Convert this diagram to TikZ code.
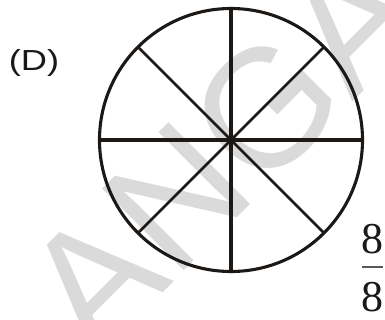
\documentclass[tikz,border=0pt]{standalone}
\usepackage{fontspec}
\newfontfamily\wmfont{Liberation Sans}
\newfontfamily\labfont{Liberation Sans}
\newfontfamily\numfont{Liberation Serif}
\definecolor{wmgray}{RGB}{218,218,218}
\definecolor{ink}{RGB}{28,24,22}
\tikzset{
  spoke/.style={draw=ink, line width=2.8pt},
  axisline/.style={draw=ink, line width=3.3pt},
  digit/.style={font=\numfont\fontsize{44}{44}\selectfont, inner sep=0pt, anchor=base, text=ink},
}
\begin{document}
\begin{tikzpicture}[x=1pt,y=1pt]
\useasboundingbox (0,0) rectangle (385,-320);
\clip (0,0) rectangle (385,-320);
\fill[white] (0,0) rectangle (385,-320);
% watermark
\node[rotate=45, text=wmgray, font=\wmfont\fontsize{168}{168}\selectfont, inner sep=0pt] (wm) at (223,-151) {ANGA};
% circle
\node[circle, draw=ink, line width=3.1pt, minimum size=263pt, inner sep=0pt, outer sep=0pt] (c) at (231,-140) {};
\draw[axisline] (c.west) -- (c.east);
\draw[axisline] (c.north) -- (c.south);
\draw[spoke] (c.135) -- (c.315);
\draw[spoke] (c.45) -- (c.225);
% label
\node[font=\labfont\fontsize{29}{29}\selectfont, xscale=1.25, inner sep=0pt, anchor=base, text=ink] (lab) at (34,-71) {(D)};
% fraction
\node[digit] (num) at (372.5,-253) {8};
\node[digit] (den) at (372.5,-311) {8};
\coordinate (barl) at (362,-267);
\coordinate (barr) at (383,-267);
\draw[draw=black!65, line width=1.3pt] (barl) -- (barr);
\end{tikzpicture}
\end{document}
